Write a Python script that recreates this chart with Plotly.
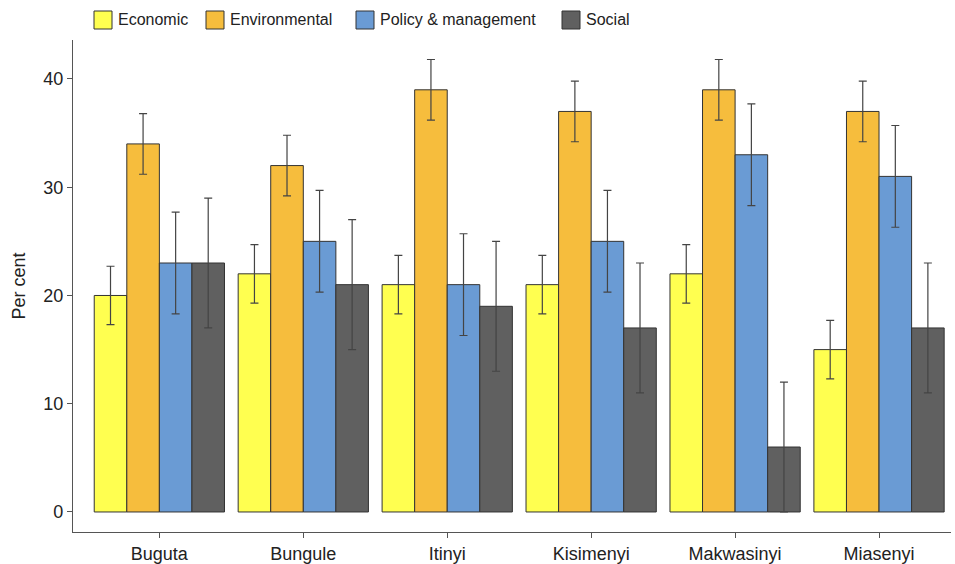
import plotly.graph_objects as go

sites = ["Buguta", "Bungule", "Itinyi", "Kisimenyi", "Makwasinyi", "Miasenyi"]
economic = [20, 22, 21, 21, 22, 15]
economic_err = [2.7, 2.7, 2.7, 2.7, 2.7, 2.7]
environmental = [34, 32, 39, 37, 39, 37]
environmental_err = [2.8, 2.8, 2.8, 2.8, 2.8, 2.8]
policy = [23, 25, 21, 25, 33, 31]
policy_err = [4.7, 4.7, 4.7, 4.7, 4.7, 4.7]
social = [23, 21, 19, 17, 6, 17]
social_err = [6, 6, 6, 6, 6, 6]
y_ticks = [0, 10, 20, 30, 40]

series = [
    ("Economic", economic, economic_err, "#FFFF50"),
    ("Environmental", environmental, environmental_err, "#F6BD3D"),
    ("Policy & management", policy, policy_err, "#6A9BD4"),
    ("Social", social, social_err, "#606060"),
]

W, H = 955, 564
ML, MR, MT, MB = 73, 4, 40, 32
PW, PH = W - ML - MR, H - MT - MB

def px_to_paper(px, py):
    return (px - ML) / PW, (H - MB - py) / PH

fig = go.Figure()
for name, vals, errs, col in series:
    fig.add_trace(go.Bar(
        name=name, x=sites, y=vals, showlegend=False,
        marker=dict(color=col, line=dict(color="#333333", width=1)),
        error_y=dict(type="data", array=errs, visible=True, color="#444444",
                     thickness=1.2, width=4),
    ))

# manual legend (positions in pixels, converted to paper coordinates)
legend_x = [94, 206, 356, 562]
shapes, annotations = [], []
for (name, _, _, col), lx in zip(series, legend_x):
    x0, y0 = px_to_paper(lx, 29)
    x1, y1 = px_to_paper(lx + 18, 11)
    shapes.append(dict(type="rect", xref="paper", yref="paper", x0=x0, x1=x1, y0=y0, y1=y1,
                       fillcolor=col, line=dict(color="#333333", width=1)))
    tx, ty = px_to_paper(lx + 22, 20)
    annotations.append(dict(text=name, xref="paper", yref="paper", x=tx, y=ty,
                            xanchor="left", yanchor="middle", showarrow=False,
                            font=dict(size=16, color="#222222")))

fig.update_layout(
    width=W, height=H,
    barmode="group", bargap=0.095, bargroupgap=0,
    plot_bgcolor="white", paper_bgcolor="white",
    font=dict(family="Liberation Sans, Arial, sans-serif", color="#222222", size=18),
    margin=dict(l=ML, r=MR, t=MT, b=MB, autoexpand=False),
    showlegend=False,
    shapes=shapes, annotations=annotations,
    xaxis=dict(range=[-0.6, 5.5], showline=True, linecolor="#555555", linewidth=1.2,
               ticks="outside", ticklen=5, tickcolor="#555555", showgrid=False,
               tickfont=dict(size=18), automargin=False),
    yaxis=dict(range=[-1.85, 43.6], showline=True, linecolor="#555555", linewidth=1.2,
               ticks="outside", ticklen=5, tickcolor="#555555", showgrid=False,
               zeroline=False, tickvals=y_ticks, tickfont=dict(size=18), automargin=False,
               title=dict(text="Per cent", font=dict(size=18), standoff=12)),
)

fig.write_html("out.html", config={"displayModeBar": False},
               post_script="document.body.style.margin='0';document.body.style.overflow='hidden';")
